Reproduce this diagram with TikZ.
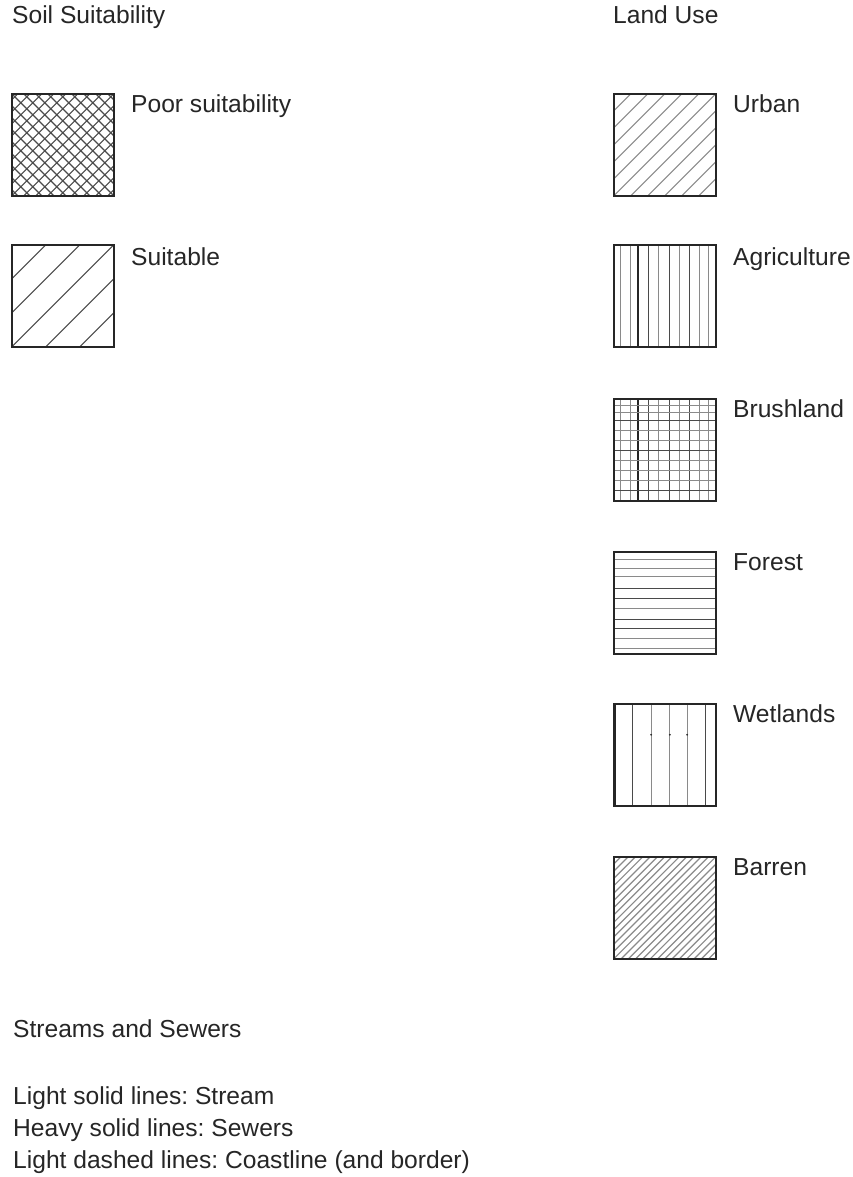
\documentclass[tikz,border=0pt]{standalone}
\usepackage{fontspec}
\setmainfont{Liberation Sans}
\frenchspacing
\definecolor{ink}{HTML}{262626}
\definecolor{hgray}{HTML}{8A8A8A}
\definecolor{hdark}{HTML}{4A4A4A}
\newcommand{\vlines}{%
  \foreach \x/\s in {7/hl,16.5/hl,35/hd,45/hl,56/hd,66/hl,76/hd,86/hl,95/hl}{\draw[\s] ([xshift=\x pt]path picture bounding box.south west) -- ++(0,-102);}%
  \draw[draw=ink,line width=1.4pt] ([xshift=24pt]path picture bounding box.south west) -- ++(0,-102);}
\newcommand{\hlines}{%
  \foreach \y/\s in {7/hl,14/hl,22/hd,32/hl,42/hl,52/hd,62/hl,72/hl,82/hl,92/hd}{\draw[\s] ([yshift=-\y pt]path picture bounding box.north west) -- ++(102,0);}}
\begin{document}
\begin{tikzpicture}[x=1pt,y=-1pt,
  lbl/.style={anchor=base west, inner sep=0pt, text=ink, font=\fontsize{24.6}{30}\selectfont},
  swatch/.style={draw=ink, line width=1.6pt, minimum width=102pt, minimum height=102pt, inner sep=0pt, anchor=north west},
  hl/.style={draw=hgray, line width=1.2pt},
  hd/.style={draw=hdark, line width=1.2pt},
  diagup/.style 2 args={path picture={
      \foreach \i in {-40,...,40}{\draw[#2] ([xshift=\i*#1 pt]path picture bounding box.south west) -- ++(110,-110);}
    }},
  cross/.style={path picture={
      \foreach \i in {-12,...,12}{\draw[hd,line width=1.2pt] ([xshift=\i*12 pt]path picture bounding box.south west) -- ++(110,-110);
        \draw[hd,line width=1.2pt] ([xshift=\i*12 pt]path picture bounding box.north west) -- ++(110,110);}
    }},
  vert/.style={path picture={\vlines}},
  grid/.style={path picture={\vlines\hlines}},
  forest/.style={path picture={
      \foreach \y/\s in {8/hl,17/hl,25/hl,37/hd,47/hd,57/hl,68/hd,77/hd,87/hl,97/hl}{\draw[\s] ([yshift=-\y pt]path picture bounding box.north west) -- ++(102,0);}
    }},
  wet/.style={path picture={
      \foreach \x/\s in {18.3/hd,37.3/hl,56/hl,73.3/hl,91.7/hd}{\draw[\s] ([xshift=\x pt]path picture bounding box.south west) -- ++(0,-102);}
      \draw[draw=ink,line width=1.4pt] ([xshift=1.5pt]path picture bounding box.south west) -- ++(0,-102);
      \foreach \x in {37.3,56,73.3}{\fill[ink] ([xshift=\x pt,yshift=-31pt]path picture bounding box.north west) circle (1pt);}
    }}
]
\useasboundingbox[fill=white] (0,0) rectangle (853,1177);

% headings
\node[lbl] (hsoil) at (12,24) {Soil Suitability};
\node[lbl] (hland) at (613,24) {Land Use};

% soil suitability
\node[swatch, cross] (poor) at (11,93) {};
\node[lbl] (tpoor) at (131,113) {Poor suitability};
\node[swatch, diagup={34}{hd}] (suit) at (11,244) {};
\node[lbl] (tsuit) at (131,265) {Suitable};

% land use
\node[swatch, diagup={17}{hl}] (urban) at (613,93) {};
\node[lbl] (turban) at (733,113) {Urban};
\node[swatch, vert] (agri) at (613,244) {};
\node[lbl] (tagri) at (733,265) {Agriculture};
\node[swatch, grid] (brush) at (613,398) {};
\node[lbl] (tbrush) at (733,417) {Brushland};
\node[swatch, forest] (forest) at (613,551) {};
\node[lbl] (tforest) at (733,570) {Forest};
\node[swatch, wet] (wet) at (613,703) {};
\node[lbl] (twet) at (733,722) {Wetlands};
\node[swatch, diagup={7.3}{hl}] (barren) at (613,856) {};
\node[lbl] (tbarren) at (733,875) {Barren};

% streams and sewers
\node[lbl] (hstream) at (13,1037) {Streams and Sewers};
\node[lbl] (l1) at (13,1104) {Light solid lines: Stream};
\node[lbl] (l2) at (13,1136) {Heavy solid lines: Sewers};
\node[lbl] (l3) at (13,1168) {Light dashed lines: Coastline (and border)};
\end{tikzpicture}
\end{document}
